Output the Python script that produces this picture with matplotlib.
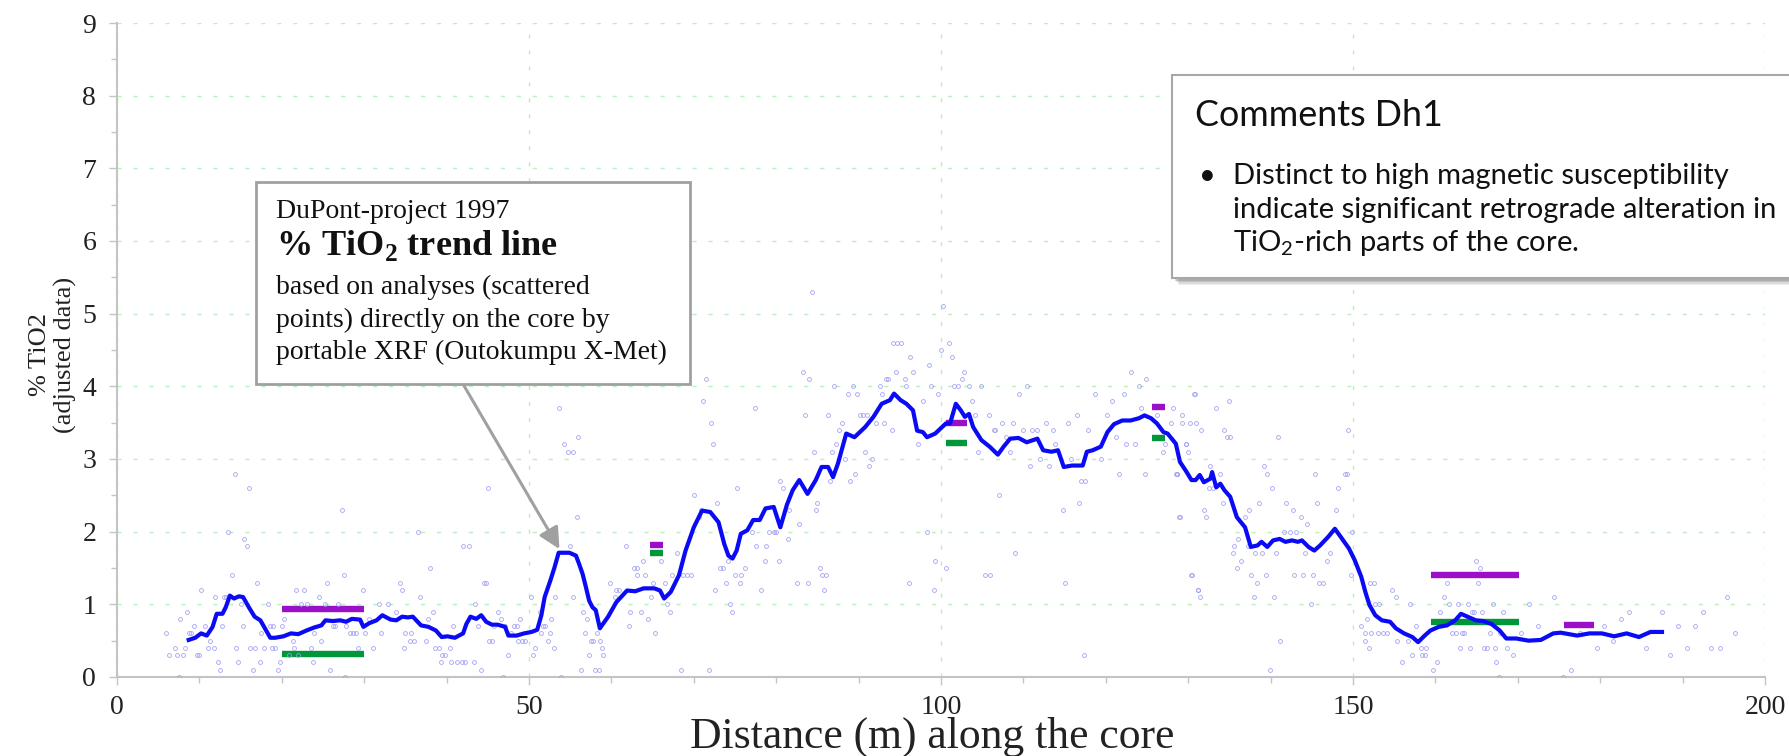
import matplotlib.pyplot as plt
from matplotlib.patches import Rectangle
from matplotlib.ticker import MultipleLocator

plt.rcParams['font.family'] = ['Liberation Serif', 'DejaVu Serif']
plt.rcParams['mathtext.fontset'] = 'custom'
plt.rcParams['mathtext.rm'] = 'Liberation Serif'
plt.rcParams['mathtext.bf'] = 'Liberation Serif:bold'
plt.rcParams['mathtext.sf'] = 'Lato'

# TiO2 trend line (running mean along the core)
trend_x = [8.7, 9.5, 10.2, 10.9, 11.6, 12.1, 12.8, 13.2, 13.7, 14.2, 14.8, 15.3, 16.0, 16.7, 17.4,
           18.1, 18.6, 19.2, 20.2, 21.1, 22.0, 23.0, 23.9, 24.8, 25.3, 26.2, 27.1, 27.8, 28.5, 29.5,
           29.9, 30.6, 31.5, 32.2, 33.2, 33.9, 34.6, 35.3, 35.9, 36.9, 37.8, 38.7, 39.4, 40.1, 41.0,
           42.0, 42.4, 42.9, 43.6, 44.2, 44.8, 45.5, 46.2, 47.1, 47.5, 48.5, 49.4, 50.3, 51.0, 51.5,
           51.9, 52.6, 53.1, 53.6, 54.9, 55.7, 56.1, 56.5, 56.9, 57.3, 57.7, 58.1, 58.6, 59.6, 60.6,
           61.9, 62.9, 63.9, 65.2, 65.9, 66.4, 67.2, 68.2, 69.0, 70.0, 71.0, 72.0, 73.0, 73.7, 74.2,
           74.7, 75.2, 75.7, 76.5, 77.2, 78.0, 78.7, 79.7, 80.5, 81.3, 82.0, 82.8, 83.8, 84.8, 85.5,
           86.3, 86.9, 87.5, 88.5, 89.5, 90.8, 91.8, 92.8, 93.8, 94.3, 95.1, 95.8, 96.6, 97.1, 97.8,
           98.3, 99.3, 100.6, 101.1, 101.8, 102.4, 102.9, 103.4, 103.9, 104.9, 105.9, 106.9, 107.6,
           108.4, 109.4, 110.4, 111.7, 112.4, 113.4, 114.2, 114.9, 115.9, 117.2, 117.7, 118.4, 119.4,
           120.2, 121.0, 122.0, 123.0, 124.0, 124.7, 125.5, 126.2, 127.0, 127.5, 128.0, 128.5, 129.0,
           129.7, 130.4, 130.9, 131.4, 131.9, 132.7, 132.9, 133.4, 133.9, 134.4, 135.1, 135.9, 136.9,
           137.6, 138.4, 138.9, 139.6, 140.3, 141.1, 141.8, 142.6, 143.3, 143.8, 144.6, 145.3, 146.0,
           147.0, 147.8, 148.5, 149.5, 150.2, 151.0, 151.5, 152.0, 152.7, 153.5, 154.5, 155.2, 156.2,
           157.2, 157.9, 158.7, 159.4, 160.4, 161.4, 162.4, 163.1, 163.9, 164.9, 165.8, 166.8, 167.8,
           168.6, 169.8, 171.3, 172.8, 174.3, 175.2, 177.2, 178.7, 180.2, 181.7, 183.2, 184.7, 186.1,
           187.5]
trend_y = [0.51, 0.54, 0.60, 0.57, 0.69, 0.87, 0.87, 0.96, 1.12, 1.08, 1.11, 1.10, 0.96, 0.83, 0.78,
           0.64, 0.54, 0.54, 0.56, 0.60, 0.59, 0.64, 0.68, 0.71, 0.78, 0.77, 0.78, 0.76, 0.80, 0.79,
           0.69, 0.74, 0.78, 0.85, 0.79, 0.78, 0.83, 0.82, 0.83, 0.71, 0.69, 0.64, 0.55, 0.56, 0.54,
           0.60, 0.73, 0.83, 0.80, 0.85, 0.76, 0.72, 0.72, 0.69, 0.57, 0.57, 0.60, 0.62, 0.65, 0.85,
           1.10, 1.33, 1.51, 1.71, 1.71, 1.67, 1.55, 1.42, 1.24, 1.05, 0.96, 0.92, 0.67, 0.83, 1.03,
           1.19, 1.18, 1.22, 1.22, 1.19, 1.08, 1.17, 1.40, 1.74, 2.06, 2.29, 2.27, 2.13, 1.83, 1.67,
           1.63, 1.74, 1.97, 2.02, 2.16, 2.16, 2.32, 2.34, 2.06, 2.37, 2.57, 2.71, 2.52, 2.71, 2.89,
           2.89, 2.75, 2.94, 3.35, 3.30, 3.44, 3.58, 3.76, 3.81, 3.90, 3.81, 3.76, 3.67, 3.39, 3.37,
           3.30, 3.35, 3.49, 3.49, 3.76, 3.67, 3.58, 3.62, 3.44, 3.26, 3.17, 3.06, 3.17,
           3.28, 3.29, 3.23, 3.28, 3.12, 3.10, 3.12, 2.89, 2.91, 2.91, 3.10, 3.12, 3.17,
           3.37, 3.48, 3.53, 3.53, 3.56, 3.60, 3.56, 3.49, 3.37, 3.35, 3.28, 3.21, 2.96,
           2.84, 2.71, 2.71, 2.78, 2.68, 2.73, 2.82, 2.61, 2.66, 2.57, 2.48, 2.20, 2.06,
           1.79, 1.81, 1.86, 1.79, 1.88, 1.90, 1.86, 1.88, 1.86, 1.88, 1.79, 1.74, 1.81,
           1.93, 2.04, 1.93, 1.77, 1.61, 1.38, 1.17, 0.99, 0.85, 0.78, 0.76, 0.67, 0.60,
           0.55, 0.48, 0.57, 0.64, 0.69, 0.71, 0.78, 0.87, 0.83, 0.78, 0.77, 0.73, 0.64,
           0.53, 0.53, 0.50, 0.51, 0.60, 0.61, 0.57, 0.60, 0.60, 0.56, 0.60, 0.55, 0.62,
           0.62]

# single portable XRF readings
xrf_x = [5.9, 6.3, 7.0, 7.3, 7.5, 7.7, 8.0, 8.3, 8.5, 8.7, 9.0, 9.3, 9.7, 10.0, 10.2, 10.7, 11.1,
         11.3, 11.8, 11.9, 12.2, 12.5, 12.8, 13.0, 13.2, 13.5, 14.0, 14.3, 14.5, 14.7, 15.0, 15.3,
         15.4, 15.8, 16.0, 16.2, 16.5, 16.7, 17.0, 17.3, 17.5, 17.9, 18.3, 18.6, 18.9, 18.8, 19.2,
         19.5, 19.8, 20.0, 20.3, 20.9, 21.3, 21.5, 21.7, 22.0, 22.3, 22.7, 23.0, 23.5, 23.8, 23.9,
         24.5, 24.7, 25.3, 25.5, 25.8, 26.2, 26.5, 26.8, 27.3, 27.5, 27.7, 27.8, 28.3, 28.7, 29.0,
         29.3, 29.9, 30.1, 30.6, 31.1, 31.8, 32.0, 32.9, 33.9, 34.3, 34.6, 34.8, 35.0, 35.5, 35.7,
         36.1, 36.5, 36.8, 37.5, 37.8, 38.0, 38.3, 38.6, 39.1, 39.4, 39.3, 39.8, 40.4, 40.5, 40.8,
         41.3, 41.9, 42.0, 42.2, 42.7, 43.3, 43.5, 43.8, 44.2, 44.5, 44.8, 45.0, 45.2, 45.5, 45.8,
         46.2, 46.6, 46.8, 47.1, 47.5, 47.8, 48.2, 48.5, 48.7, 48.9, 49.2, 49.5, 50.2, 50.5, 50.7,
         51.3, 51.5, 51.7, 51.9, 52.3, 52.6, 52.7, 53.0, 53.2, 53.7, 53.9, 54.3, 54.7, 55.0, 55.4,
         55.3, 55.8, 56.0, 56.3, 56.5, 56.8, 57.0, 57.3, 57.5, 57.8, 58.0, 58.3,
         58.6, 58.5, 58.9, 59.0, 59.8, 60.4, 60.6, 60.9, 61.8, 62.1, 62.3, 62.7, 63.1, 63.1, 63.6,
         63.8, 64.1, 64.4, 64.8, 65.1, 65.3, 66.0, 66.5, 66.8, 67.1, 67.4, 68.0, 68.5, 68.7, 69.2,
         69.7, 70.0, 70.6, 70.9, 71.1, 71.5, 71.8, 72.1, 72.3, 72.6, 72.8, 73.2, 73.5, 73.9, 74.1,
         74.4, 74.6, 75.0, 75.3, 75.6, 75.7, 76.2, 77.1, 77.4, 77.6, 78.2, 78.6, 78.8, 79.1, 79.7,
         80.0, 80.4, 80.5, 80.8, 81.4, 81.6, 82.5, 82.8, 83.3, 83.5, 83.9, 84.0, 84.6, 84.8, 85.0,
         85.3, 85.5, 85.8, 86.0, 84.3, 86.3, 86.5, 86.8, 87.0, 87.3, 87.6, 88.0, 88.3, 88.7, 89.0,
         89.3, 89.6, 89.8, 90.2, 90.5, 90.8, 91.0, 91.3, 91.6, 92.1, 92.6, 92.8, 93.1, 93.3, 93.6,
         94.1, 94.2, 94.5, 94.7, 95.2, 95.6, 95.8, 96.1, 96.2, 96.6, 97.2, 97.8, 98.3, 98.5, 98.8,
         99.1, 99.3, 99.6, 100.0, 100.3, 100.6, 101.0, 101.3, 101.6, 102.1, 102.5, 102.8, 103.4,
         103.8, 104.1, 104.5, 104.9, 105.3, 105.8, 106.0, 106.4, 106.6, 107.0, 107.4, 107.9, 108.4,
         108.7, 109.0, 109.5, 109.9, 110.4, 110.8, 111.1, 111.7, 112.0, 112.7, 113.1, 113.6, 113.8,
         114.8, 115.0, 115.4, 115.8, 116.5, 116.7, 117.0, 117.3, 117.5, 117.9, 118.7, 119.4, 120.1,
         120.7, 121.2, 121.6, 122.2, 122.5, 123.1, 123.6, 124.0, 124.3, 124.7, 124.9, 126.2, 127.0,
         127.2, 128.2, 128.6, 128.9, 129.2, 129.7, 130.5, 130.8, 131.2,
         127.9, 129.2, 130.7, 130.2, 130.9, 131.6, 133.4, 134.9, 134.4, 134.7, 135.1, 140.9, 129.7,
         130.0, 128.5, 128.7, 132.7, 133.9, 132.5, 133.0, 134.2, 129.0, 131.9, 132.2, 137.4, 136.9,
         139.2, 139.6, 140.2, 138.6, 141.9, 142.7, 143.7, 144.4, 145.6, 145.4, 147.9, 148.2, 149.0,
         149.3, 149.4, 149.9, 141.6, 142.3, 143.1, 136.1, 137.3, 135.6, 135.4, 136.4, 135.9, 138.1,
         139.0, 140.7, 144.2, 147.2, 146.9, 130.4, 137.6, 139.5, 142.9, 143.9, 145.1, 149.7, 138.4,
         145.9, 146.3, 131.2, 131.4, 138.0, 140.4, 152.1, 152.6, 154.7, 155.2, 144.9, 152.7, 153.2,
         156.9, 151.7, 157.7, 141.2, 151.0, 151.4, 152.2, 153.0, 153.6, 151.4, 152.0, 154.1, 155.4,
         155.9, 156.7, 157.2, 158.2, 158.4, 158.7, 158.9, 159.7, 160.2, 139.9, 160.6, 161.0, 161.4,
         161.7, 162.0, 162.5, 163.0, 162.8, 163.2, 163.5, 163.9, 164.2, 164.5, 164.7, 164.9, 165.2,
         165.4, 165.7, 165.9, 166.3, 166.6, 167.0, 167.2, 167.4, 167.7, 167.9, 168.2, 168.7, 169.4,
         170.4, 171.4, 172.5, 174.4, 175.5, 176.5, 177.5, 179.6, 180.5, 181.5, 182.5, 183.5, 185.5,
         187.5, 188.5, 189.5, 190.5, 191.5, 192.5, 193.5, 194.5, 195.4, 196.4]
xrf_y = [0.6, 0.3, 0.4, 0.3, 0.0, 0.8, 0.3, 0.4, 0.9, 0.6, 0.6, 0.7, 0.3, 0.3, 1.2, 0.7, 0.4,
         0.5, 0.4, 1.1, 0.2, 0.1, 0.7, 1.1, 1.1, 2.0, 1.4, 2.8, 0.4, 0.2, 1.0, 0.7,
         1.9, 1.8, 2.6, 0.4, 0.1, 0.4, 1.3, 0.2, 0.6, 0.4, 1.0, 0.7, 0.7, 0.4, 0.4,
         0.1, 0.2, 0.7, 0.8, 0.3, 0.5, 0.4, 1.2, 0.3, 1.0, 1.2, 1.0, 0.4, 0.2, 0.6,
         1.1, 0.5, 1.0, 1.3, 0.1, 0.7, 0.7, 1.0, 2.3, 1.4, 0.0, 0.7, 0.6, 0.6, 0.6,
         0.4, 1.2, 0.6, 0.8, 0.4, 1.0, 0.6, 1.0, 0.9, 1.3, 1.2, 0.4, 0.6, 0.5, 0.6,
         0.5, 2.0, 1.1, 0.5, 0.8, 1.5, 0.9, 0.4, 0.4, 0.3, 0.2, 0.3, 0.4, 0.2, 0.7,
         0.2, 0.2, 1.8, 0.2, 1.8, 0.2, 1.0, 0.7, 0.1, 1.3, 1.3, 2.6, 0.5, 0.5, 0.7,
         0.9, 0.8, 0.0, 0.7, 0.3, 0.6, 0.7, 0.7, 0.5, 0.8, 0.5, 0.5, 1.1, 0.3, 0.4,
         0.9, 0.6, 0.7, 0.7, 0.5, 0.6, 0.8, 0.4, 1.1, 3.7, 0.0, 3.2, 3.1, 1.8, 3.1,
         1.1, 2.2, 3.3, 0.1, 0.9, 0.6, 0.8, 0.3, 0.5, 0.5, 0.1, 0.6,
         0.5, 0.1, 0.4, 0.3, 1.3, 1.1, 1.2, 1.2, 1.8, 0.7, 0.9, 1.5, 1.5, 1.4, 0.9,
         1.6, 1.4, 0.8, 1.1, 1.3, 0.6, 1.6, 1.3, 1.0, 0.9, 1.4, 1.7, 0.1, 1.4, 1.4,
         1.4, 2.5, 2.2, 2.3, 3.8, 4.1, 0.1, 3.5, 3.2, 1.2, 2.4, 1.5, 1.5, 1.3, 1.6,
         1.0, 0.9, 1.4, 2.6, 1.3, 1.4, 1.5, 2.0, 3.7, 1.8, 1.2, 1.6, 1.8, 2.0, 2.0,
         2.0, 1.6, 2.7, 2.6, 1.9, 2.3, 1.3, 2.1, 4.2, 3.6, 1.3, 4.1, 3.1, 2.3, 2.4,
         1.5, 1.4, 1.2, 1.4, 5.3, 3.6, 2.7, 3.1, 4.0, 3.2, 3.4, 3.5, 3.0, 3.9, 2.7,
         4.0, 2.8, 3.9, 3.6, 3.6, 3.1, 3.6, 2.9, 3.0, 3.5, 4.0, 3.9, 3.5, 4.1, 4.1,
         3.4, 4.6, 4.2, 4.6, 4.6, 4.1, 4.0, 1.3, 4.4, 4.2, 3.2, 3.8, 2.0, 4.3, 4.0,
         1.2, 1.6, 3.9, 4.5, 5.1, 1.5, 4.6, 4.4, 4.0, 4.0, 4.1, 4.2, 4.0,
         3.8, 3.6, 3.1, 4.0, 1.4, 3.6, 1.4, 3.4, 3.4, 2.5, 3.5, 3.3, 3.1,
         3.5, 1.7, 3.9, 3.4, 4.0, 2.9, 3.4, 3.4, 3.0, 3.5, 2.9, 3.4, 3.2,
         2.3, 1.3, 3.5, 3.0, 3.6, 2.4, 2.7, 0.3, 2.7, 3.4, 3.9, 3.0, 3.6,
         3.8, 3.3, 2.8, 3.9, 3.2, 4.2, 3.2, 4.0, 3.7, 2.8, 4.1, 3.6, 3.1,
         3.2, 3.7, 2.8, 2.2, 3.5, 3.2, 1.4, 3.9, 1.2,
         3.5, 3.6, 3.9, 3.5, 3.5, 3.4, 3.7, 3.8, 3.4, 3.3, 3.3, 3.3, 3.2,
         3.1, 2.8, 2.8, 2.9, 2.8, 2.6, 2.6, 2.4, 2.2, 2.3, 2.2, 2.3, 2.2,
         2.9, 2.8, 2.6, 2.4, 2.4, 2.3, 2.2, 2.1, 2.4, 2.8, 2.3, 2.6, 2.8,
         2.8, 3.4, 2.0, 2.0, 2.0, 2.0, 1.9, 1.8, 1.8, 1.7, 1.6, 1.5, 1.7,
         1.7, 1.7, 1.7, 1.7, 1.6, 1.4, 1.4, 1.4, 1.4, 1.4, 1.4, 1.4, 1.3,
         1.3, 1.3, 1.2, 1.1, 1.1, 1.1, 1.3, 1.3, 1.2, 1.1, 1.0, 1.0, 1.0,
         1.0, 0.8, 0.7, 0.5, 0.7, 0.6, 0.6, 0.6, 0.6, 0.5, 0.4, 0.6, 0.5,
         0.2, 0.5, 0.3, 0.4, 0.3, 0.3, 0.4, 0.1, 0.2, 0.1, 0.9, 1.1, 1.3,
         1.0, 0.6, 0.6, 0.4, 1.0, 0.6, 0.6, 1.0, 0.4, 0.9, 0.9, 1.6, 1.3,
         1.5, 0.9, 0.4, 0.4, 0.6, 1.0, 0.4, 0.2, 0.0, 0.6, 0.9, 0.4, 0.3,
         0.6, 1.0, 0.7, 1.1, 0.0, 0.1, 0.6, 0.4, 0.7, 0.5, 0.8, 0.9, 0.4,
         0.9, 0.3, 0.7, 0.4, 0.7, 0.9, 0.4, 0.4, 1.1, 0.6]

# interval bars (purple / green) from the core logging
bar_x0 = [20.0, 20.0, 64.7, 64.7, 100.6, 100.6, 125.6, 125.6, 159.5, 159.5, 175.6]
bar_x1 = [30.0, 30.0, 66.3, 66.3, 103.1, 103.1, 127.2, 127.2, 170.1, 170.1, 179.2]
bar_y = [0.93, 0.32, 1.81, 1.71, 3.49, 3.22, 3.71, 3.29, 1.40, 0.76, 0.71]
bar_col = ['#9b0fc9', '#00973a', '#9b0fc9', '#00973a', '#9b0fc9', '#00973a',
           '#9b0fc9', '#00973a', '#9b0fc9', '#00973a', '#9b0fc9']

W, H = 1789, 756
fig = plt.figure(figsize=(W / 100, H / 100), dpi=100)
ax = fig.add_axes([117 / W, 1 - 677 / H, (1765 - 117) / W, (677 - 23) / H])

ax.hlines(bar_y, bar_x0, bar_x1, colors=bar_col, lw=4.6, zorder=3)
ax.plot(xrf_x, xrf_y, 'o', ms=2.8, mfc='none', mec='#9c9cf2', mew=0.65, alpha=0.85, zorder=4)
ax.plot(trend_x, trend_y, color='#0a0af5', lw=3.0, zorder=5)

ax.set_xlim(0, 200)
ax.set_ylim(0, 9)
ax.xaxis.set_major_locator(MultipleLocator(50))
ax.xaxis.set_minor_locator(MultipleLocator(10))
ax.yaxis.set_major_locator(MultipleLocator(1))
ax.yaxis.set_minor_locator(MultipleLocator(0.5))
ax.grid(True, which='major', color='#bdeebd', ls=(0, (3, 8.5)), lw=1.0, zorder=0)
ax.set_axisbelow(True)
for s in ['top', 'right']:
    ax.spines[s].set_visible(False)
for s in ['left', 'bottom']:
    ax.spines[s].set_color('#c4c4c4')
    ax.spines[s].set_linewidth(1.5)
ax.tick_params(which='major', direction='out', length=6, width=1, color='#c4c4c4',
               labelsize=20, labelcolor='#222222')
ax.tick_params(which='minor', direction='out', length=4, width=1, color='#c4c4c4')
ax.tick_params(axis='x', pad=7)
ax.tick_params(axis='y', pad=9)

renderer = fig.canvas.get_renderer()


def fit_width(t, width_px):
    # scale the font so the text spans the width measured on the reference
    bb = t.get_window_extent(renderer)
    t.set_fontsize(t.get_fontsize() * width_px / bb.width)


xl = fig.text(932 / W, 1 - 748 / H, 'Distance (m) along the core', fontsize=29,
              ha='center', va='baseline', color='#222222')
fit_width(xl, 485)
fig.text(53 / W, 1 - 355 / H, '% TiO2\n(adjusted data)', fontsize=19, rotation=90,
         ha='center', va='center', multialignment='center', color='#222222', linespacing=1.2)

# annotation box for the trend line
ax.add_patch(Rectangle((256 / W, 1 - 384 / H), (690 - 256) / W, (384 - 182) / H,
                       transform=fig.transFigure, facecolor='white', edgecolor='#a0a0a0',
                       lw=2, zorder=8, clip_on=False))
box_lines = [('DuPont-project 1997', 218, 20, 'normal'),
             (r'% TiO$_\mathbf{2}$ trend line', 255, 26, 'bold'),
             ('based on analyses (scattered', 294, 20, 'normal'),
             ('points) directly on the core by', 327, 20, 'normal'),
             ('portable XRF (Outokumpu X-Met)', 359, 20, 'normal')]
for txt, yb, fs, fw in box_lines:
    t = fig.text(276 / W, 1 - yb / H, txt, fontsize=fs, fontweight=fw, ha='left',
                 va='baseline', color='#111111', zorder=9)
    if fw == 'bold':
        fit_width(t, 282)
ax.annotate('', xy=(53.7, 1.76), xytext=(42.0, 4.03),
            arrowprops=dict(arrowstyle='-|>', color='#a0a0a0', lw=2.2, mutation_scale=32,
                            shrinkA=0, shrinkB=0), zorder=7, annotation_clip=False)

# comments box with soft shadow
for k, a in enumerate([0.10, 0.14, 0.18, 0.22]):
    off = 7 - k * 1.5
    ax.add_patch(Rectangle(((1172 + off) / W, 1 - (278 + off) / H), 700 / W, (278 - 75) / H,
                           transform=fig.transFigure, facecolor='#606060', edgecolor='none',
                           alpha=a, zorder=8, clip_on=False))
ax.add_patch(Rectangle((1172 / W, 1 - 278 / H), 700 / W, (278 - 75) / H,
                       transform=fig.transFigure, facecolor='white', edgecolor='#a8a8a8',
                       lw=1.5, zorder=8, clip_on=False))
sans = ['Lato', 'DejaVu Sans']
head = fig.text(1195 / W, 1 - 126 / H, 'Comments Dh1', fontsize=26, family=sans, ha='left',
                va='baseline', color='#111111', zorder=9)
fit_width(head, 248)
com_lines = ['Distinct to high magnetic susceptibility',
             'indicate significant retrograde alteration in',
             r'TiO$_\mathsf{2}$-rich parts of the core.']
com_base = [184, 218, 251]
com_txt = [fig.text(1233 / W, 1 - yb / H, txt, fontsize=19, family=sans, ha='left',
                    va='baseline', color='#111111', zorder=9)
           for txt, yb in zip(com_lines, com_base)]
fit_width(com_txt[1], 545)
for t in com_txt:
    t.set_fontsize(com_txt[1].get_fontsize())
fig.text(1199 / W, 1 - 184 / H, '\u2022', fontsize=com_txt[1].get_fontsize(), family=sans,
         ha='left', va='baseline', color='#111111', zorder=9)

fig.savefig('out.png', dpi=100)
